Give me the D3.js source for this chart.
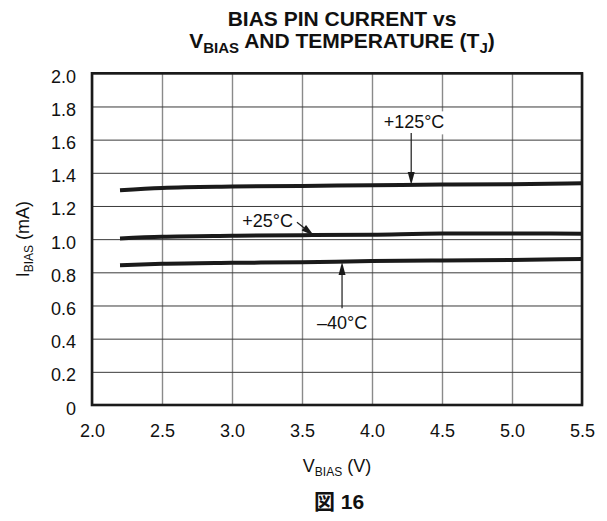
<!DOCTYPE html>
<html><head><meta charset="utf-8">
<script src="https://cdn.jsdelivr.net/npm/d3@7"></script>
<style>
body{margin:0;background:#fff}
svg{display:block}
text{font-family:"Liberation Sans",Arial,Helvetica,"Noto Sans CJK JP",sans-serif;fill:#111}
</style>
</head><body>
<svg id="c" width="607" height="521"></svg>
<script>
// ---- data ----
const xTickValues = [2.0, 2.5, 3.0, 3.5, 4.0, 4.5, 5.0, 5.5];
const xTickLabels = ["2.0", "2.5", "3.0", "3.5", "4.0", "4.5", "5.0", "5.5"];
const yTickValues = [0, 0.2, 0.4, 0.6, 0.8, 1.0, 1.2, 1.4, 1.6, 1.8, 2.0];
const yTickLabels = ["0", "0.2", "0.4", "0.6", "0.8", "1.0", "1.2", "1.4", "1.6", "1.8", "2.0"];
const vBias = [2.2, 2.5, 3.0, 3.5, 4.0, 4.5, 5.0, 5.5];
const iBias125 = [1.295, 1.309, 1.317, 1.321, 1.325, 1.329, 1.331, 1.337];
const iBias25  = [1.004, 1.014, 1.020, 1.024, 1.027, 1.034, 1.034, 1.033];
const iBiasM40 = [0.843, 0.851, 0.857, 0.861, 0.868, 0.871, 0.875, 0.881];
const seriesNames = ["+125°C", "+25°C", "–40°C"];
// annotation anchors in data units: label position, arrow start, arrow tip
const annLabelX = [4.3, 3.436, 3.607];
const annLabelY = [1.668, 1.074, 0.458];
const annArrowX0 = [4.28, 3.464, 3.786];
const annArrowY0 = [1.64, 1.102, 0.584];
const annArrowX1 = [4.28, 3.586, 3.786];
const annArrowY1 = [1.327, 1.020, 0.862];

// ---- layout ----
const L = 92, R = 582, T = 73.3, B = 405;
const svg = d3.select("#c");
const x = d3.scaleLinear().domain([2.0, 5.5]).range([L, R]);
const y = d3.scaleLinear().domain([0, 2.0]).range([B, T]);

// grid + tick labels
const gx = svg.append("g").attr("transform", `translate(0,${B})`)
  .call(d3.axisBottom(x).tickValues(xTickValues).tickSize(-(B - T)).tickFormat((d, i) => xTickLabels[i]).tickPadding(19));
gx.select(".domain").remove();
gx.selectAll(".tick line").attr("stroke", "#8a8a8a").attr("stroke-width", 1.4);
gx.selectAll(".tick text").attr("font-size", 18).attr("fill", "#111").attr("dy", "0.7em");

const gy = svg.append("g").attr("transform", `translate(${L},0)`)
  .call(d3.axisLeft(y).tickValues(yTickValues).tickSize(-(R - L)).tickFormat((d, i) => yTickLabels[i]).tickPadding(16));
gy.select(".domain").remove();
gy.selectAll(".tick line").attr("stroke", "#3a3a3a").attr("stroke-width", 1);
gy.selectAll(".tick text").attr("font-size", 18).attr("fill", "#111").attr("dy", "0.5em");

// series
const series = [iBias125, iBias25, iBiasM40];
const line = d3.line().x((d, i) => x(vBias[i])).y(d => y(d)).curve(d3.curveMonotoneX);
series.forEach(s => {
  svg.append("path").datum(s).attr("d", line)
    .attr("fill", "none").attr("stroke", "#1a1a1a").attr("stroke-width", 4);
});

// annotations
const annAnchor = ["middle", "end", "start"];
seriesNames.forEach((name, i) => {
  const t = svg.append("text").attr("x", x(annLabelX[i])).attr("y", y(annLabelY[i]))
    .attr("text-anchor", annAnchor[i]).attr("font-size", 18).text(name);
  const bb = t.node().getBBox();
  if (i !== 1) {
    svg.insert("rect", () => t.node()).attr("x", bb.x - 3).attr("y", bb.y - 1)
      .attr("width", bb.width + 6).attr("height", bb.height + 3).attr("fill", "#fff");
  }
  const x0 = x(annArrowX0[i]), y0 = y(annArrowY0[i]);
  const x1 = x(annArrowX1[i]), y1 = y(annArrowY1[i]);
  const ang = Math.atan2(y1 - y0, x1 - x0);
  const hl = 13, hw = 3.5;
  const bx = x1 - hl * Math.cos(ang), by = y1 - hl * Math.sin(ang);
  svg.append("line").attr("x1", x0).attr("y1", y0).attr("x2", bx).attr("y2", by)
    .attr("stroke", "#1a1a1a").attr("stroke-width", 1.2);
  const px = -Math.sin(ang), py = Math.cos(ang);
  svg.append("path")
    .attr("d", `M${x1},${y1}L${bx + px * hw},${by + py * hw}L${bx - px * hw},${by - py * hw}Z`)
    .attr("fill", "#1a1a1a");
});

// frame
svg.append("rect").attr("x", L).attr("y", T).attr("width", R - L).attr("height", B - T)
  .attr("fill", "none").attr("stroke", "#1a1a1a").attr("stroke-width", 2.6);

// titles
svg.append("text").attr("x", 342).attr("y", 26).attr("text-anchor", "middle")
  .attr("font-size", 21).attr("font-weight", "bold").text("BIAS PIN CURRENT vs");
const t2 = svg.append("text").attr("x", 342).attr("y", 48).attr("text-anchor", "middle")
  .attr("font-size", 21).attr("font-weight", "bold");
t2.append("tspan").text("V");
t2.append("tspan").attr("font-size", 15).attr("dy", 5).text("BIAS");
t2.append("tspan").attr("dy", -5).text(" AND TEMPERATURE (T");
t2.append("tspan").attr("font-size", 15).attr("dy", 5).text("J");
t2.append("tspan").attr("dy", -5).text(")");

const xt = svg.append("text").attr("x", 337).attr("y", 472).attr("text-anchor", "middle").attr("font-size", 18);
xt.append("tspan").text("V");
xt.append("tspan").attr("font-size", 12).attr("dy", 4).text("BIAS");
xt.append("tspan").attr("dy", -4).text(" (V)");

const yt = svg.append("text").attr("transform", `translate(29,${(T + B) / 2}) rotate(-90)`)
  .attr("text-anchor", "middle").attr("font-size", 18);
yt.append("tspan").text("I");
yt.append("tspan").attr("font-size", 12).attr("dy", 4).text("BIAS");
yt.append("tspan").attr("dy", -4).text(" (mA)");

svg.append("text").attr("x", 339).attr("y", 509).attr("text-anchor", "middle")
  .attr("font-size", 21).attr("font-weight", "bold").text("図 16");
</script>
</body></html>
